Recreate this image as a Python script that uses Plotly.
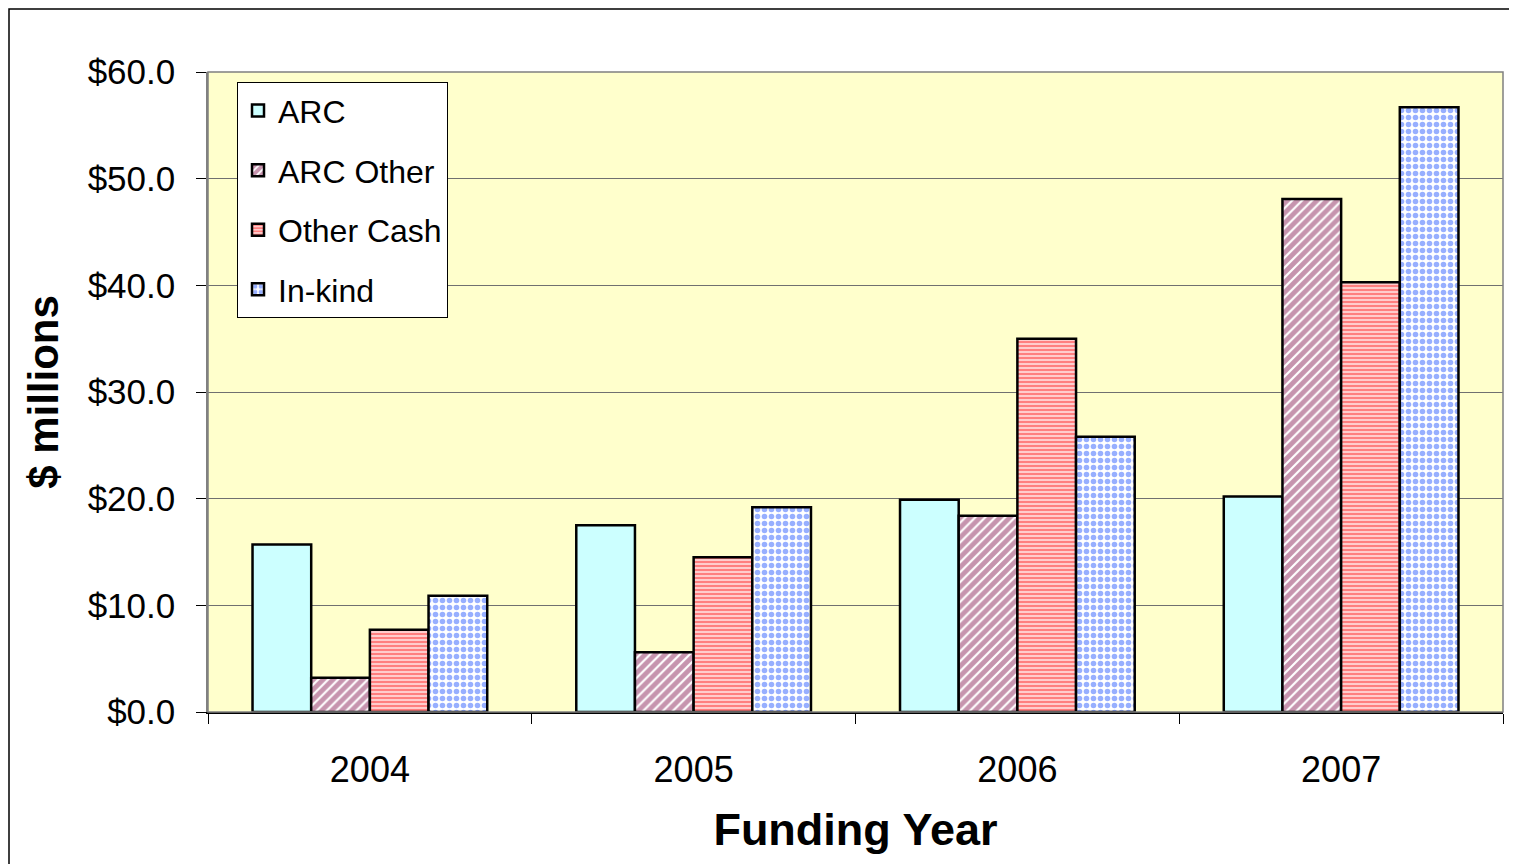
import plotly.graph_objects as go

years = ["2004", "2005", "2006", "2007"]
arc = [15.7, 17.5, 19.9, 20.2]
arc_other = [3.2, 5.6, 18.4, 48.1]
other_cash = [7.7, 14.5, 35.0, 40.3]
in_kind = [10.9, 19.2, 25.8, 56.7]

series = [
    ("ARC", arc, dict(color="#CCFFFF")),
    ("ARC Other", arc_other, dict(color="white", pattern=dict(shape="/", fgcolor="#8E2A5E", bgcolor="white", size=7, solidity=0.7, fillmode="overlay"))),
    ("Other Cash", other_cash, dict(color="white", pattern=dict(shape="-", fgcolor="#FF0000", bgcolor="white", size=4, solidity=0.7, fillmode="overlay"))),
    ("In-kind", in_kind, dict(color="white", pattern=dict(shape=".", fgcolor="#2F5FFF", bgcolor="white", size=7, solidity=0.5, fillmode="overlay"))),
]

fig = go.Figure()
for i, (name, vals, mk) in enumerate(series):
    mk = dict(mk)
    mk["line"] = dict(color="black", width=2.5)
    fig.add_trace(go.Bar(x=years, y=vals, name=name, marker=mk, legendgroup=f"g{i}"))

FONT = "Liberation Sans, Arial, sans-serif"
fig.update_layout(
    width=1509, height=856,
    margin=dict(l=200, r=14, t=64, b=152),
    paper_bgcolor="white", plot_bgcolor="#FFFFCC",
    barmode="group", bargap=0.275, bargroupgap=0,
    font=dict(family=FONT, color="black", size=22),
    showlegend=True,
    legend=dict(x=0.0224, y=0.984, xanchor="left", yanchor="top",
                bgcolor="white", bordercolor="black", borderwidth=1,
                font=dict(size=32, family=FONT), tracegroupgap=15,
                traceorder="grouped"),
    xaxis=dict(title=dict(text="<b>Funding Year</b>", font=dict(size=45, family=FONT), standoff=25),
               tickfont=dict(size=36, family=FONT),
               ticks="outside", ticklen=10, tickcolor="black", tickson="boundaries",
               ticklabelstandoff=25,
               showline=True, linecolor="black", linewidth=1.5, mirror=False),
    yaxis=dict(title=dict(text="<b>$ millions</b>", font=dict(size=42, family=FONT), standoff=16),
               range=[0, 60], dtick=10, tickprefix="$", tickformat=".1f",
               tickfont=dict(size=35, family=FONT),
               ticks="outside", ticklen=10, tickcolor="black",
               ticklabelstandoff=14,
               showgrid=True, gridcolor="#707070", gridwidth=1.2,
               showline=True, linecolor="#808080", linewidth=1.5, zeroline=False),
    shapes=[
        dict(type="rect", xref="paper", yref="paper", x0=0, x1=1, y0=0, y1=1,
             line=dict(color="#808080", width=1.5), layer="above"),
        dict(type="rect", xref="paper", yref="paper", x0=-199/1295, x1=1.05, y0=-0.3, y1=1 + 63/640,
             line=dict(color="black", width=1.5)),
    ],
)

fig.write_html("out.html")
